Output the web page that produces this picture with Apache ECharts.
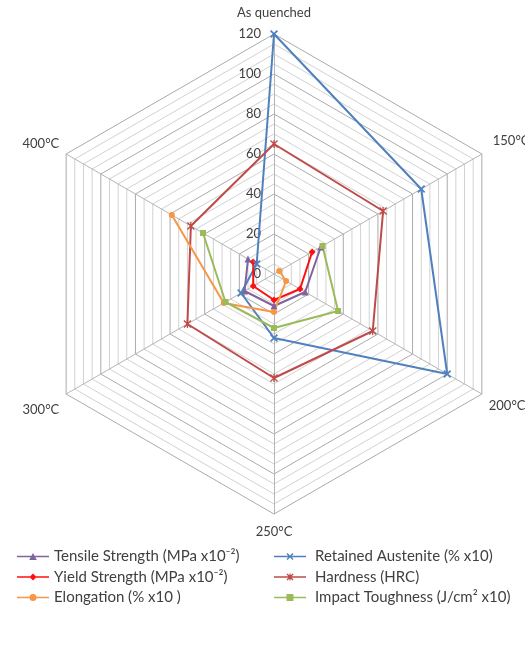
<!DOCTYPE html>
<html>
<head>
<meta charset="utf-8">
<script src="https://cdn.jsdelivr.net/npm/echarts@6/dist/echarts.min.js"></script>
<style>
  html, body { margin: 0; padding: 0; background: #ffffff; }
  #chart { width: 525px; height: 647px; }
</style>
</head>
<body>
<div id="chart"></div>
<script>
// Tempering conditions (clockwise from the top)
const categories = ['As quenched', '150°C', '200°C', '250°C', '300°C', '400°C'];

// Property values per condition (null = not measured)
const tensileStrength   = [null, 27, 18, 16, 17, 15];
const yieldStrength     = [null, 22, 15, 13, 12, 12];
const elongation        = [null, 3, 7, 19, 29, 59];
const retainedAustenite = [120, 85, 100, 32, 19, 10];
const hardness          = [65, 63, 57, 52, 50, 48];
const impactToughness   = [null, 28, 37, 27, 28, 41];

// Labelled rings on the vertical axis
const tickLabels = [0, 20, 40, 60, 80, 100, 120];

const seriesNames = [
  'Tensile Strength (MPa x10⁻²)',
  'Yield Strength (MPa x10⁻²)',
  'Elongation (% x10 )',
  'Retained Austenite (% x10)',
  'Hardness (HRC)',
  'Impact Toughness (J/cm² x10)'
];
const colors = ['#7F63A1', '#FF1010', '#F79646', '#4F81BD', '#BE4B48', '#9BBB59'];

const FONT = 'Lato, "Open Sans", sans-serif';
const TEXT = '#404040';
const CX = 274, CY = 274, R = 240;

// Marker shapes
const xMark = 'path://M0,1.5L1.5,0L5,3.5L8.5,0L10,1.5L6.5,5L10,8.5L8.5,10L5,6.5L1.5,10L0,8.5L3.5,5Z';
const starMark = 'path://M0,1.2L1.2,0L5,3.8L8.8,0L10,1.2L6.2,5L10,8.8L8.8,10L5,6.2L1.2,10L0,8.8L3.8,5Z' +
                 'M4.2,0H5.8V10H4.2Z';

// Legend icons: a line with the series marker in its middle (32 x 7 box)
const bar = 'M0,2.7H32V4.3H0Z';
const legendIcons = [
  'path://' + bar + 'M16,0L19.8,7L12.2,7Z',
  'path://' + bar + 'M16,0L19.5,3.5L16,7L12.5,3.5Z',
  'path://' + bar + 'M16,0A3.5,3.5 0 1 1 16,7A3.5,3.5 0 1 1 16,0Z',
  'path://' + bar + 'M12.5,1L13.5,0L16,2.5L18.5,0L19.5,1L17,3.5L19.5,6L18.5,7L16,4.5L13.5,7L12.5,6L15,3.5Z',
  'path://' + bar + 'M12.5,0.9L13.4,0L16,2.6L18.6,0L19.5,0.9L16.9,3.5L19.5,6.1L18.6,7L16,4.4L13.4,7L12.5,6.1L15.1,3.5Z' +
    'M15.45,0H16.55V7H15.45Z',
  'path://' + bar + 'M12.5,0H19.5V7H12.5Z'
];

// Radar places indicators counter-clockwise, so feed them in reverse after the first
const radarOrder = [0, 5, 4, 3, 2, 1];
const toRadar = arr => radarOrder.map(i => arr[i]);

const indicator = radarOrder.map(i => {
  const ind = { name: categories[i], min: 0, max: 120 };
  if (i === 0) {
    ind.axisLabel = {
      show: true,
      margin: 13,
      color: TEXT,
      fontSize: 13,
      fontFamily: FONT,
      formatter: v => (tickLabels.indexOf(Math.round(v)) >= 0 ? String(Math.round(v)) : '')
    };
  }
  return ind;
});

// Per-name nudges for the condition labels around the rim
const nameStyle = { color: TEXT, fontSize: 13, fontFamily: FONT };
const nameRich = {
  n0: Object.assign({ padding: [0, 0, 7, 0] }, nameStyle),
  n1: Object.assign({ padding: [0, 0, 18, 4] }, nameStyle),
  n2: Object.assign({ padding: [16, 0, 0, 0] }, nameStyle),
  n3: Object.assign({ padding: [3, 0, 0, 0] }, nameStyle),
  n4: Object.assign({ padding: [23, 0, 0, 0] }, nameStyle),
  n5: Object.assign({ padding: [0, 0, 12, 0] }, nameStyle)
};

// Series with an unmeasured condition are drawn as open lines on a polar system
function openLine(idx, values, symbol, size) {
  return {
    name: seriesNames[idx],
    type: 'line',
    coordinateSystem: 'polar',
    data: values,
    connectNulls: false,
    symbol: symbol,
    symbolSize: size,
    showAllSymbol: true,
    color: colors[idx],
    lineStyle: { color: colors[idx], width: 2 },
    itemStyle: { color: colors[idx] },
    z: 3
  };
}
// Complete series are drawn as closed radar polygons
function closedRadar(idx, values, symbol, size) {
  return {
    name: seriesNames[idx],
    type: 'radar',
    radarIndex: 0,
    symbol: symbol,
    symbolSize: size,
    color: colors[idx],
    lineStyle: { color: colors[idx], width: 2 },
    itemStyle: { color: colors[idx] },
    areaStyle: null,
    z: 3,
    data: [{ name: seriesNames[idx], value: toRadar(values) }]
  };
}

const legendText = { color: TEXT, fontSize: 15, fontFamily: FONT, lineHeight: 14 };

const option = {
  animation: false,
  backgroundColor: '#ffffff',
  color: colors,
  radar: {
    center: [CX, CY],
    radius: R,
    startAngle: 90,
    shape: 'polygon',
    splitNumber: 24,
    indicator: indicator,
    nameGap: 8,
    axisName: {
      color: TEXT, fontSize: 13, fontFamily: FONT,
      formatter: name => '{n' + categories.indexOf(name) + '|' + name + '}',
      rich: nameRich
    },
    axisLine: { lineStyle: { color: '#b5b5b5', width: 1 } },
    axisTick: { show: false },
    axisLabel: { show: false },
    splitLine: { lineStyle: { color: ['#ababab', '#d2d2d2', '#d2d2d2', '#d2d2d2'], width: 1 } },
    splitArea: { show: false }
  },
  polar: { center: [CX, CY], radius: R },
  angleAxis: {
    type: 'category',
    data: categories,
    startAngle: 90,
    clockwise: true,
    boundaryGap: false,
    show: false
  },
  radiusAxis: { type: 'value', min: 0, max: 120, show: false },
  legend: [
    {
      orient: 'vertical', left: 12, top: 544,
      itemWidth: 32, itemHeight: 7, itemGap: 5.5,
      textStyle: Object.assign({ padding: [0, 0, 0, 0] }, legendText),
      data: [0, 1, 2].map(i => ({ name: seriesNames[i], icon: legendIcons[i] }))
    },
    {
      orient: 'vertical', left: 269, top: 544,
      itemWidth: 32, itemHeight: 7, itemGap: 5.5,
      textStyle: Object.assign({ padding: [0, 0, 0, 4] }, legendText),
      data: [3, 4, 5].map(i => ({ name: seriesNames[i], icon: legendIcons[i] }))
    }
  ],
  series: [
    openLine(0, tensileStrength, 'triangle', 7),
    openLine(1, yieldStrength, 'diamond', 7),
    openLine(2, elongation, 'circle', 6),
    closedRadar(3, retainedAustenite, xMark, 8),
    closedRadar(4, hardness, starMark, 8),
    openLine(5, impactToughness, 'rect', 6)
  ]
};

const chart = echarts.init(document.getElementById('chart'), null, { renderer: 'canvas' });
chart.setOption(option);
</script>
</body>
</html>
